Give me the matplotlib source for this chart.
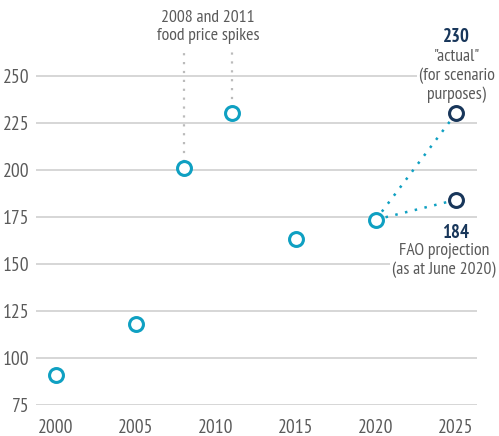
import matplotlib
matplotlib.use("Agg")
import matplotlib.pyplot as plt

# -----------------------------------------------------------------------------
# data
# -----------------------------------------------------------------------------

years = [2000, 2005, 2008, 2011, 2015, 2020]
values = [91, 118, 201, 230, 163, 173.5]

proj_year = 2025
proj_actual = 230
proj_fao = 184

spike_years = [2008, 2011]
spike_values = [201, 230]

yticks = [75, 100, 125, 150, 175, 200, 225, 250]
xticks = [2000, 2005, 2010, 2015, 2020, 2025]

TEAL = "#0fa0c2"
NAVY = "#18365a"
GRID = "#d3d3d3"
TXT = "#5a5a5a"

plt.rcParams["font.family"] = ["PT Sans Narrow", "DejaVu Sans"]

# -----------------------------------------------------------------------------

W, H = 499, 436
fig = plt.figure(figsize=(W / 100, H / 100), dpi=100)
left, right, bottom, top = 36, 476.7, 404.7, 0
ax = fig.add_axes([left / W, 1 - bottom / H, (right - left) / W, (bottom - top) / H])

ax.set_xlim(1998.77, 2026.3)
ax.set_ylim(75, 290.4)

for s in ax.spines.values():
    s.set_visible(False)
for y in yticks:
    ax.axhline(y, color=GRID, lw=1.3, zorder=0)

ax.set_yticks(yticks)
ax.set_xticks(xticks)
ax.tick_params(length=0, labelsize=14, colors=TXT)
ax.tick_params(axis="y", pad=5)
ax.tick_params(axis="x", pad=10)

# spike guide lines
for x, v in zip(spike_years, spike_values):
    ax.plot([x, x], [v + 3, 264], ls=(0, (1, 3)), color="#bbbbbb", lw=1.6, zorder=1)
ax.text(2009.5, 276, "2008 and 2011\nfood price spikes", ha="center", va="center",
        fontsize=12.8, color=TXT, linespacing=1.23)

# projection guide lines
for v in [proj_actual, proj_fao]:
    ax.plot([years[-1], proj_year], [values[-1], v], ls=(0, (1, 3)), color=TEAL,
            lw=1.8, zorder=1)

ax.plot(years, values, "o", ms=10, mfc="white", mec=TEAL, mew=2.2, zorder=3, clip_on=False)
ax.plot([proj_year, proj_year], [proj_actual, proj_fao], "o", ms=10, mfc="white",
        mec=NAVY, mew=2.2, zorder=3, clip_on=False)

# labels for projections
ax.text(proj_year, 270.7, str(proj_actual), ha="center", va="center", fontsize=13.5,
        fontweight="bold", color=NAVY, clip_on=False)
ax.text(proj_year + 0.05, 250, '"actual"\n(for scenario\npurposes)', ha="center", va="center",
        fontsize=12.8, color=TXT, linespacing=1.23, clip_on=False,
        bbox=dict(boxstyle="square,pad=0.1", fc="white", ec="none"), zorder=2)

ax.text(proj_year, 166.5, str(proj_fao), ha="center", va="center", fontsize=13.5,
        fontweight="bold", color=NAVY, clip_on=False)
ax.text(proj_year - 0.75, 151.6, "FAO projection\n(as at June 2020)", ha="center",
        va="center", fontsize=12.8, color=TXT, linespacing=1.23, clip_on=False,
        bbox=dict(boxstyle="square,pad=0.1", fc="white", ec="none"), zorder=2)

fig.savefig("out.png", dpi=100)
